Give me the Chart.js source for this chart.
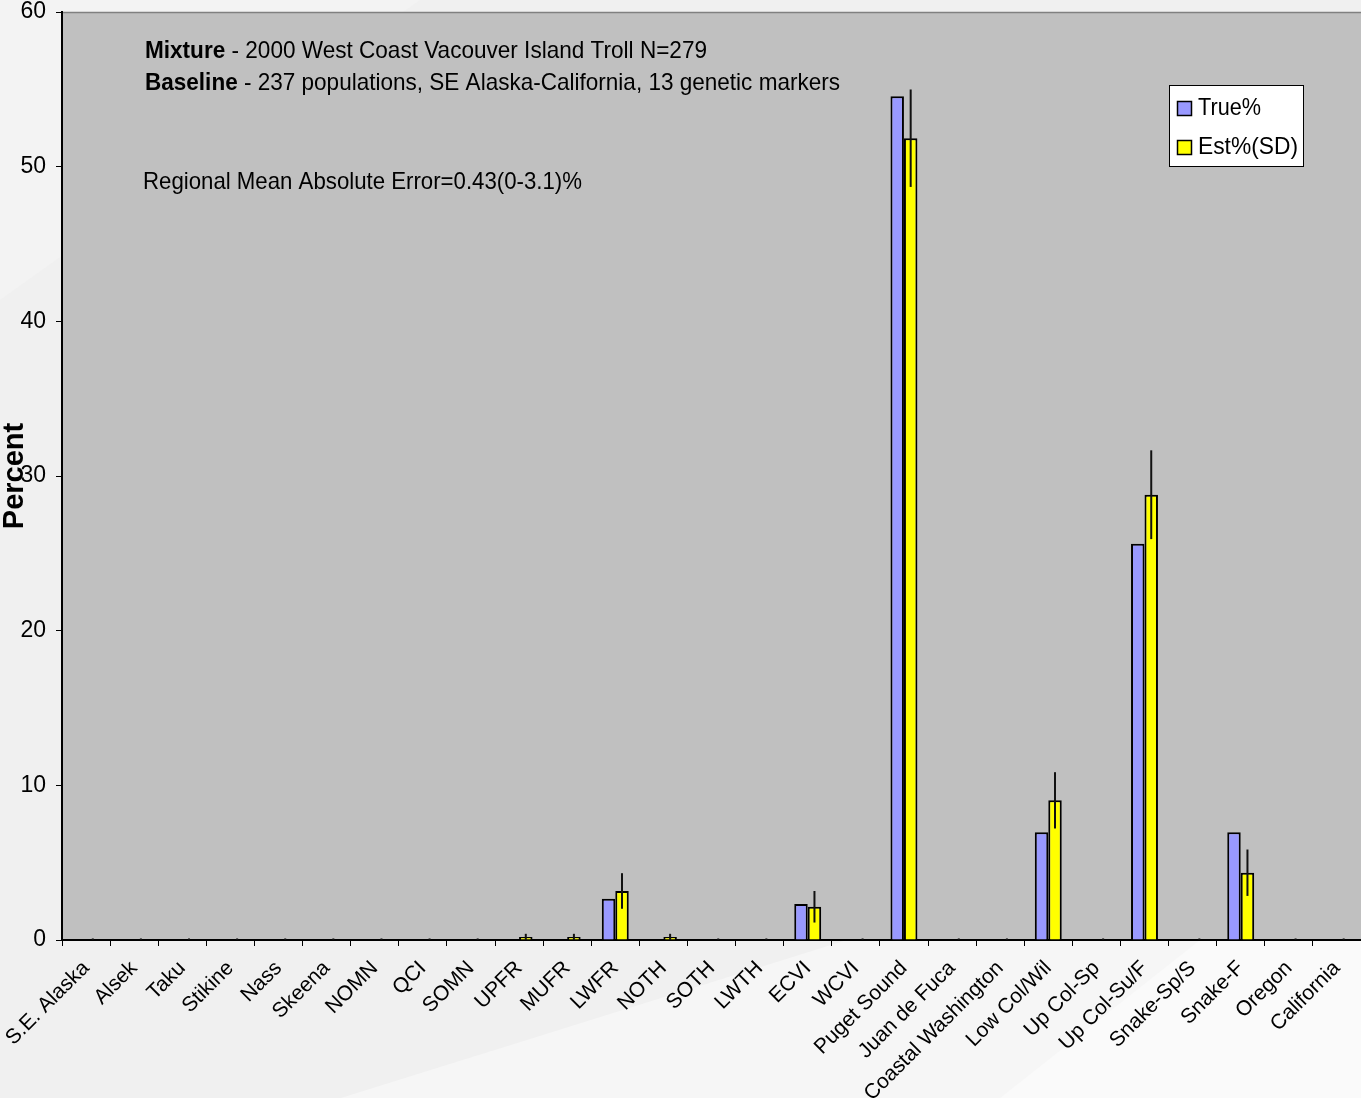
<!DOCTYPE html>
<html>
<head>
<meta charset="utf-8">
<title>Mixture estimate by region</title>
<script src="https://cdn.jsdelivr.net/npm/chart.js@4/dist/chart.umd.min.js"></script>
<style>
  html, body { margin: 0; padding: 0; background: #f0f0f0; }
  #wrap { width: 1361px; height: 1098px; }
</style>
</head>
<body>
<div id="wrap"><canvas id="c" width="1361" height="1098"></canvas></div>
<script>
// Reporting regions (x axis)
const categories = [
  'S.E. Alaska', 'Alsek', 'Taku', 'Stikine', 'Nass', 'Skeena', 'NOMN', 'QCI', 'SOMN',
  'UPFR', 'MUFR', 'LWFR', 'NOTH', 'SOTH', 'LWTH', 'ECVI', 'WCVI', 'Puget Sound',
  'Juan de Fuca', 'Coastal Washington', 'Low Col/Wil', 'Up Col-Sp', 'Up Col-Su/F',
  'Snake-Sp/S', 'Snake-F', 'Oregon', 'California'
];

// True mixture composition (%)
const truePct = [
  0, 0, 0, 0, 0, 0, 0, 0, 0,
  0, 0, 2.67, 0, 0, 0, 2.33, 0, 54.56,
  0, 0, 6.96, 0, 25.62,
  0, 6.96, 0, 0
];

// Estimated composition (%)
const estPct = [
  0, 0, 0, 0, 0, 0, 0, 0, 0,
  0.2, 0.2, 3.17, 0.2, 0, 0, 2.15, 0, 51.84,
  0, 0, 9.03, 0, 28.79,
  0, 4.35, 0, 0
];

// Standard deviation of the estimates (%)
const estSD = [
  0.1, 0.1, 0.1, 0.1, 0.1, 0.1, 0.1, 0.1, 0.1,
  0.2, 0.2, 1.15, 0.2, 0.1, 0.1, 1.02, 0.1, 3.15,
  0.1, 0.1, 1.82, 0.1, 2.87,
  0.1, 1.5, 0.1, 0.1
];

const yTicks = { min: 0, max: 60, step: 10 };

const FONT = "'Liberation Sans', Arial, sans-serif";

// Page backdrop, grey plot panel and its top rule
const backdrop = {
  id: 'backdrop',
  beforeDraw(chart) {
    const { ctx, width, height, chartArea: a } = chart;
    ctx.save();
    ctx.fillStyle = '#f0f0f0';
    ctx.fillRect(0, 0, width, height);
    ctx.fillStyle = '#f3f3f3';
    ctx.beginPath();
    ctx.moveTo(0, 0); ctx.lineTo(420, 0); ctx.lineTo(0, 300); ctx.closePath();
    ctx.fill();
    ctx.fillStyle = '#f6f6f6';
    ctx.beginPath();
    ctx.moveTo(341, height); ctx.lineTo(847, a.bottom); ctx.lineTo(width, a.bottom);
    ctx.lineTo(width, height); ctx.closePath();
    ctx.fill();
    ctx.fillStyle = '#fafafa';
    ctx.beginPath();
    ctx.moveTo(1000, height); ctx.lineTo(1200, a.bottom); ctx.lineTo(width, a.bottom);
    ctx.lineTo(width, height); ctx.closePath();
    ctx.fill();
    ctx.fillStyle = '#c0c0c0';
    ctx.fillRect(a.left, a.top, a.right - a.left, a.bottom - a.top);
    ctx.strokeStyle = '#808080';
    ctx.lineWidth = 1.5;
    ctx.beginPath();
    ctx.moveTo(a.left, a.top + 0.5); ctx.lineTo(a.right, a.top + 0.5);
    ctx.stroke();
    ctx.restore();
  }
};

// Vertical SD lines through the estimate bars
const sdBars = {
  id: 'sdBars',
  afterDatasetsDraw(chart) {
    const { ctx, chartArea: a } = chart;
    const y = chart.scales.y;
    const meta = chart.getDatasetMeta(1);
    ctx.save();
    ctx.beginPath();
    ctx.rect(a.left, a.top, a.right - a.left, a.bottom - a.top);
    ctx.clip();
    ctx.strokeStyle = '#111';
    ctx.lineWidth = 2;
    meta.data.forEach((bar, i) => {
      const v = estPct[i], sd = estSD[i];
      ctx.beginPath();
      ctx.moveTo(bar.x, y.getPixelForValue(v - sd));
      ctx.lineTo(bar.x, y.getPixelForValue(v + sd));
      ctx.stroke();
    });
    ctx.restore();
  }
};

// Text runs of mixed weight, squeezed horizontally to a set width
function drawRuns(ctx, runs, x, baseline, size, targetWidth) {
  let total = 0;
  runs.forEach(r => {
    ctx.font = (r.bold ? 'bold ' : '') + size + 'px ' + FONT;
    r.w = ctx.measureText(r.text).width;
    total += r.w;
  });
  const sx = targetWidth ? targetWidth / total : 1;
  ctx.save();
  ctx.translate(x, baseline);
  ctx.scale(sx, 1);
  let cx = 0;
  runs.forEach(r => {
    ctx.font = (r.bold ? 'bold ' : '') + size + 'px ' + FONT;
    ctx.fillText(r.text, cx, 0);
    cx += r.w;
  });
  ctx.restore();
}

// Heading notes inside the panel and the boxed key
const notes = {
  id: 'notes',
  afterDraw(chart) {
    const { ctx } = chart;
    ctx.save();
    ctx.fillStyle = '#000';
    ctx.textBaseline = 'alphabetic';
    ctx.textAlign = 'left';
    drawRuns(ctx, [
      { text: 'Mixture', bold: true },
      { text: ' - 2000 West Coast Vacouver Island Troll N=279' }
    ], 145, 58, 24, 562);
    drawRuns(ctx, [
      { text: 'Baseline', bold: true },
      { text: ' - 237 populations, SE Alaska-California, 13 genetic markers' }
    ], 145, 90, 24, 695);
    drawRuns(ctx, [
      { text: 'Regional Mean Absolute Error=0.43(0-3.1)%' }
    ], 143, 189, 24, 439);

    // key box
    ctx.fillStyle = '#ffffff';
    ctx.fillRect(1169.5, 85.5, 134, 81);
    ctx.strokeStyle = '#000';
    ctx.lineWidth = 1;
    ctx.strokeRect(1169.5, 85.5, 134, 81);
    const rows = [101.5, 140.5];
    chart.data.datasets.forEach((ds, i) => {
      ctx.fillStyle = ds.backgroundColor;
      ctx.fillRect(1177.5, rows[i], 14, 14);
      ctx.strokeStyle = '#000';
      ctx.lineWidth = 1.5;
      ctx.strokeRect(1177.5, rows[i], 14, 14);
      ctx.fillStyle = '#000';
      drawRuns(ctx, [{ text: ds.label }], 1198, rows[i] + 13, 24, i === 0 ? 63 : 100);
    });
    ctx.restore();
  }
};

new Chart(document.getElementById('c'), {
  type: 'bar',
  data: {
    labels: categories,
    datasets: [
      {
        label: 'True%',
        data: truePct,
        backgroundColor: '#9999ff',
        borderColor: '#000',
        borderWidth: 2,
        categoryPercentage: 0.56,
        barPercentage: 1.0
      },
      {
        label: 'Est%(SD)',
        data: estPct,
        backgroundColor: '#ffff00',
        borderColor: '#000',
        borderWidth: 2,
        categoryPercentage: 0.56,
        barPercentage: 1.0
      }
    ]
  },
  options: {
    responsive: false,
    animation: false,
    layout: { padding: { top: 0, right: 0, left: 0, bottom: 0 } },
    plugins: {
      legend: { display: false },
      tooltip: { enabled: false },
      title: { display: false }
    },
    scales: {
      x: {
        offset: true,
        grid: {
          display: true,
          offset: true,
          drawOnChartArea: false,
          drawTicks: true,
          tickLength: 6,
          color: '#000'
        },
        border: { display: true, color: '#000', width: 2 },
        ticks: {
          autoSkip: false,
          minRotation: 45,
          maxRotation: 45,
          padding: 10,
          color: '#000',
          font: { family: FONT, size: 21 }
        },
        afterFit(scale) {
          scale.height = 158;
          scale.paddingLeft = 0;
          scale.paddingRight = 0;
        }
      },
      y: {
        min: yTicks.min,
        max: yTicks.max,
        grid: {
          display: true,
          drawOnChartArea: false,
          drawTicks: true,
          tickLength: 6,
          color: '#000'
        },
        border: { display: true, color: '#000', width: 2 },
        ticks: {
          stepSize: yTicks.step,
          padding: 10,
          color: '#000',
          font: { family: FONT, size: 23 }
        },
        title: {
          display: true,
          text: 'Percent',
          color: '#000',
          padding: 0,
          font: { family: FONT, size: 29, weight: 'bold', lineHeight: 1 }
        },
        afterFit(scale) {
          scale.width = 62;
          scale.paddingTop = 12;
        }
      }
    }
  },
  plugins: [backdrop, sdBars, notes]
});
</script>
</body>
</html>
